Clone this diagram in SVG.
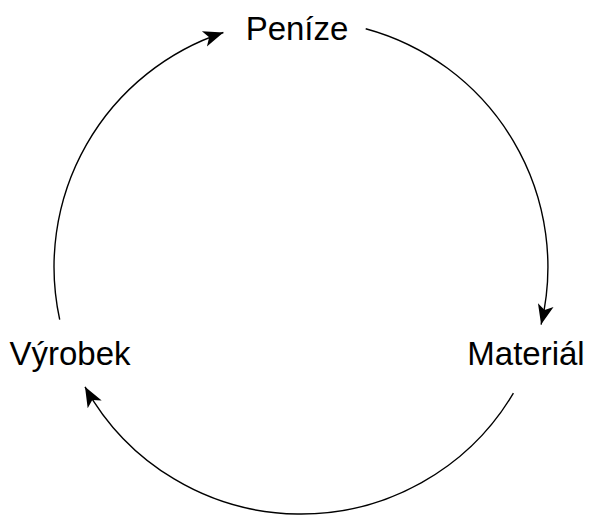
<svg xmlns="http://www.w3.org/2000/svg" width="590" height="515" viewBox="0 0 590 515">
<style>
.lbl{font-family:"Liberation Sans",Arial,sans-serif;font-size:33px;fill:#000;text-anchor:middle}
.arc{fill:none;stroke:#000;stroke-width:1.4}
</style>
<defs>
<marker id="ah" markerUnits="userSpaceOnUse" markerWidth="24" markerHeight="20" refX="20" refY="8" orient="auto" viewBox="0 0 24 16">
<path d="M0,0 L20,8 L0,16 L5,8 z" fill="#000"/>
</marker>
</defs>
<g id="connectors">
<path class="arc" d="M59.7,319.6 A247,247 0 0 1 223.4,32.5" marker-end="url(#ah)"/>
<path class="arc" d="M365.7,28.7 A247,247 0 0 1 541.1,324.6" marker-end="url(#ah)"/>
<path class="arc" d="M513.4,393.2 A247,247 0 0 1 85,386.8" marker-end="url(#ah)"/>
</g>
<g id="penize"><text class="lbl" x="297" y="40">Peníze</text></g>
<g id="material"><text class="lbl" x="526" y="365">Materiál</text></g>
<g id="vyrobek"><text class="lbl" x="70" y="365">Výrobek</text></g>
</svg>
